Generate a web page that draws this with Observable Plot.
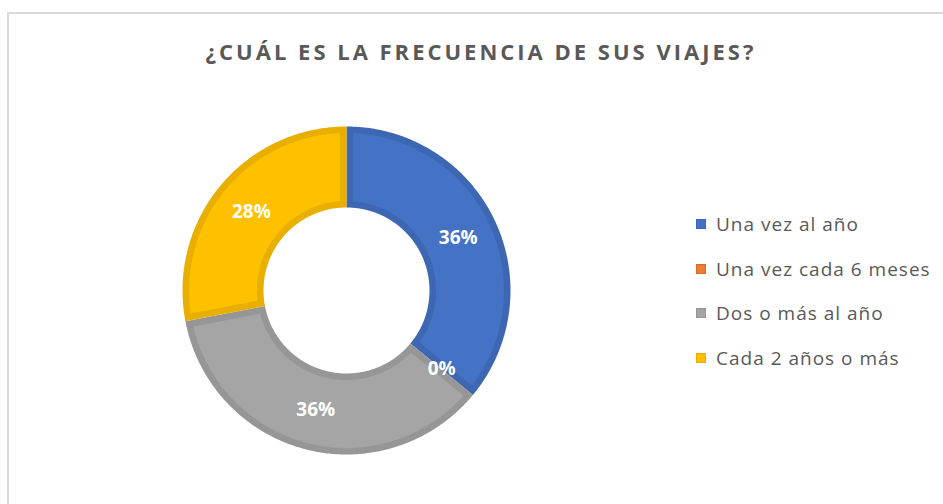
<!DOCTYPE html>
<html>
<head>
<meta charset="utf-8">
<script src="https://cdn.jsdelivr.net/npm/d3@7"></script>
<script src="https://cdn.jsdelivr.net/npm/@observablehq/plot@0.6"></script>
<style>
  html, body { margin: 0; padding: 0; background: #fff; }
  #wrap { position: relative; width: 943px; height: 504px; overflow: hidden; font-family: "Open Sans", Lato, sans-serif; }
  #frame { position: absolute; left: 7px; top: 12px; width: 960px; height: 520px; border-top: 2px solid #d9d9d9; border-left: 2px solid #d9d9d9; box-sizing: border-box; }
  #title { position: absolute; left: 0; width: 962px; top: 37px; text-align: center; font-size: 22px; line-height: 28px; font-weight: bold; color: #595959; letter-spacing: 3px; white-space: nowrap; }
  #chart { position: absolute; left: 0; top: 0; }
  #legend { position: absolute; left: 696px; top: 202px; }
  .row { height: 44.5px; display: flex; align-items: center; font-size: 19px; color: #595959; letter-spacing: 1px; white-space: nowrap; }
  .sw { width: 10px; height: 10px; box-sizing: border-box; border: 1px solid; margin-right: 10px; }
</style>
</head>
<body>
<div id="wrap">
  <div id="frame"></div>
  <div id="chart"></div>
  <div id="title"></div>
  <div id="legend"></div>
</div>
<script>
const title = "¿CUÁL ES LA FRECUENCIA DE SUS VIAJES?";
const categories = ["Una vez al año", "Una vez cada 6 meses", "Dos o más al año", "Cada 2 años o más"];
const percentages = [36, 0, 36, 28];
const fillColors = ["#4472C4", "#ED7D31", "#A5A5A5", "#FFC000"];
const borderColors = ["#3D67B2", "#D46C27", "#969696", "#E9AF00"];

const R_OUT = 1;
const R_IN = 0.506;
const BAND = 0.04;

const data = categories.map((c, i) => ({category: c, value: percentages[i], fill: fillColors[i], border: borderColors[i]}));
const arcs = d3.pie().sort(null).value(d => d.value)(data);

function ringPoints(key, color, a0, a1, r0, r1, inset) {
  const pts = [];
  let ro = r1, ri = r0, oo = 0, oi = 0;
  if (inset) {
    ro = r1 - inset; ri = r0 + inset;
    oo = Math.asin(inset / ro); oi = Math.asin(inset / ri);
    if (a1 - a0 <= 2 * oi) return pts;
  }
  const b0 = a0 + oo, b1 = a1 - oo, c0 = a0 + oi, c1 = a1 - oi;
  const n = Math.max(2, Math.ceil((b1 - b0) / 0.01));
  for (let i = 0; i <= n; i++) {
    const a = b0 + (b1 - b0) * i / n;
    pts.push({key, color, x: ro * Math.sin(a), y: ro * Math.cos(a)});
  }
  const m = Math.max(2, Math.ceil((c1 - c0) / 0.01));
  for (let i = 0; i <= m; i++) {
    const a = c1 - (c1 - c0) * i / m;
    pts.push({key, color, x: ri * Math.sin(a), y: ri * Math.cos(a)});
  }
  return pts;
}

const outerPts = [], innerPts = [], labels = [];
arcs.forEach(a => {
  if (a.endAngle - a.startAngle > 0) {
    outerPts.push(...ringPoints(a.data.category, a.data.border, a.startAngle, a.endAngle, R_IN, R_OUT, 0));
    innerPts.push(...ringPoints(a.data.category, a.data.fill, a.startAngle, a.endAngle, R_IN, R_OUT, BAND));
  }
  const mid = (a.startAngle + a.endAngle) / 2;
  const rm = (R_IN + R_OUT) / 2;
  labels.push({x: rm * Math.sin(mid), y: rm * Math.cos(mid), text: `${a.data.value}%`});
});

const plot = Plot.plot({
  width: 943,
  height: 504,
  margin: 0,
  x: {domain: [-1, 1], range: [182, 510], axis: null},
  y: {domain: [-1, 1], range: [454, 126], axis: null},
  color: {type: "identity"},
  style: {background: "transparent", fontFamily: "'Open Sans', Lato, sans-serif"},
  marks: [
    Plot.line(outerPts, {x: "x", y: "y", z: "key", fill: "color", stroke: null, curve: "linear-closed"}),
    Plot.line(innerPts, {x: "x", y: "y", z: "key", fill: "color", stroke: null, curve: "linear-closed"}),
    Plot.text(labels, {x: "x", y: "y", text: "text", fill: "white", fontWeight: "bold", fontSize: 19})
  ]
});
document.getElementById("chart").appendChild(plot);

document.getElementById("title").textContent = title;
const legend = document.getElementById("legend");
categories.forEach((c, i) => {
  const row = document.createElement("div");
  row.className = "row";
  const sw = document.createElement("div");
  sw.className = "sw";
  sw.style.background = fillColors[i];
  sw.style.borderColor = borderColors[i];
  const t = document.createElement("span");
  t.textContent = c;
  row.appendChild(sw);
  row.appendChild(t);
  legend.appendChild(row);
});
</script>
</body>
</html>
